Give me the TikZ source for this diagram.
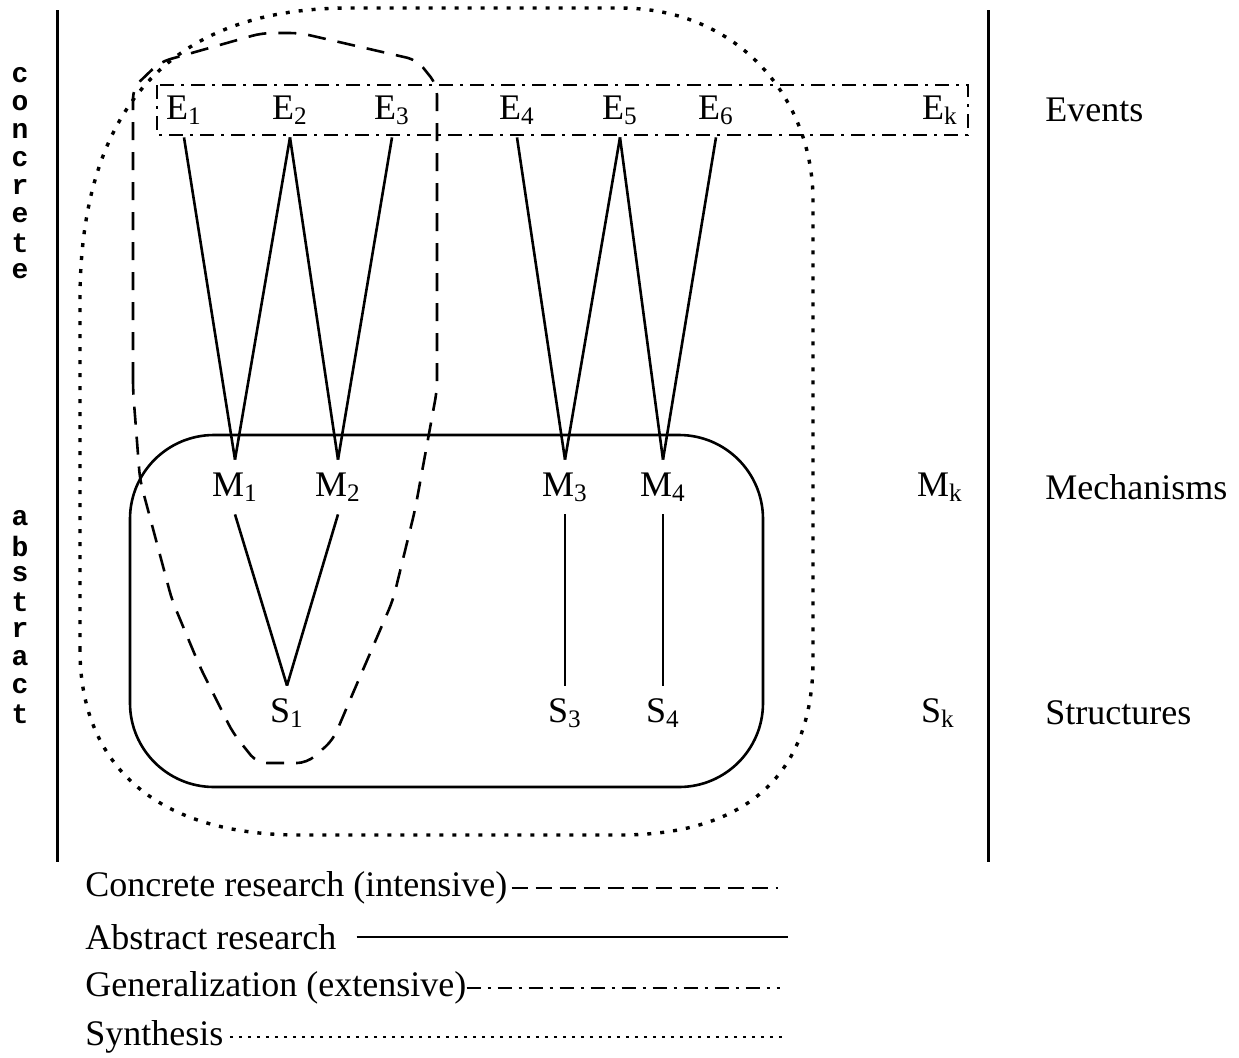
\documentclass[tikz,border=0pt]{standalone}
\usepackage{fontspec}
\setmainfont{Liberation Serif}
\newfontfamily\stackfont{Liberation Mono}
\usetikzlibrary{positioning, calc}
\tikzset{
	lbl/.style  ={inner sep=0pt, minimum height=27pt, font=\fontsize{18}{20}\selectfont},
	side/.style ={anchor=west, inner sep=0pt, font=\fontsize{18}{20}\selectfont},
	vert/.style ={inner sep=0pt, font=\stackfont\bfseries\fontsize{14}{14}\selectfont},
	conn/.style ={line width=1.3pt},
	frame/.style={line width=1.5pt},
	% research styles
	concr/.style={line width=1.3pt, dash pattern=on 9pt off 6pt},
	abstr/.style={line width=1.3pt},
	gener/.style={line width=1.2pt, dash pattern=on 7pt off 3.5pt on 1.5pt off 3.5pt},
	synth/.style={line width=1.7pt, dash pattern=on 2pt off 4.5pt},
}

\begin{document}
\begin{tikzpicture}[x=0.5pt, y=-0.5pt]
	\useasboundingbox (0,0) rectangle (1239,1057);
	% side frames
	\draw[frame] (57,10) -- (57,862);
	\draw[frame] (988,10) -- (988,862);
	\foreach \c [count=\i] in {c,o,n,c,r,e,t,e}
		\node[vert] (conc\i) at (20,47+28*\i) {\c};
	\foreach \c [count=\i] in {a,b,s,t,r,a,c,t}
		\node[vert] (abst\i) at (20,490+28*\i) {\c};
	% levels
	\foreach \n/\x in {1/184,2/290,3/392,4/517,5/620,6/716,k/940}
		\node[lbl] (E\n) at (\x,110) {E\textsubscript{\n}};
	\foreach \n/\x in {1/235,2/338,3/565,4/663,k/940}
		\node[lbl] (M\n) at (\x,487) {M\textsubscript{\n}};
	\foreach \n/\x in {1/287,3/565,4/663,k/938}
		\node[lbl] (S\n) at (\x,713) {S\textsubscript{\n}};
	\node[side] (ev) at (1045,110) {Events};
	\node[side] (me) at (1045,487) {Mechanisms};
	\node[side] (st) at (1045,713) {Structures};
	% links
	\foreach \a/\b in {E1/M1,E2/M1,E2/M2,E3/M2,E4/M3,E5/M3,E5/M4,E6/M4,M1/S1,M2/S1,M3/S3,M4/S4}
		\draw[conn] (\a.south) -- (\b.north);
	% generalization
	\draw[gener] (157,85) rectangle (968,135);
	% abstract research
	\draw[abstr, rounded corners=42pt] (130,435) rectangle (763,787);
	% concrete research
	\draw[concr, rounded corners=5pt] (133,390) -- (133,88) -- (160,62) -- (262,33) -- (300,33)
		-- (417,60) -- (437,85) -- (437,390) -- (415,510) -- (393,600) -- (350,700)
		-- (333,740) -- (307,763) -- (257,763) -- (233,733) -- (200,667) -- (172,600)
		-- (140,480) -- cycle;
	% synthesis
	\draw[synth] (80,650) -- (80,300) .. controls (80,120) and (160,8) .. (350,8) -- (620,8)
		.. controls (740,8) and (813,100) .. (813,200) -- (813,660)
		.. controls (813,780) and (740,835) .. (620,835) -- (300,835)
		.. controls (150,835) and (80,760) .. (80,650) -- cycle;
	% legend
	\node[side] (lg1) at (85,888) {Concrete research (intensive)};
	\node[side] (lg2) at (85,937) {Abstract research};
	\node[side] (lg3) at (85,988) {Generalization (extensive)};
	\node[side] (lg4) at (85,1037) {Synthesis};
	\coordinate (lg1e) at (778,888);
	\coordinate (lg2e) at (788,937);
	\coordinate (lg3e) at (780,988);
	\coordinate (lg4e) at (785,1037);
	\draw[concr, dash pattern=on 8pt off 4pt] ([xshift=2pt]lg1.east) -- (lg1e);
	\draw[abstr] ([xshift=10pt]lg2.east) -- (lg2e);
	\draw[gener] (lg3.east) -- (lg3e);
	\draw[synth, line width=1.3pt, dash pattern=on 1.5pt off 3pt] ([xshift=3pt]lg4.east) -- (lg4e);
\end{tikzpicture}
\end{document}
